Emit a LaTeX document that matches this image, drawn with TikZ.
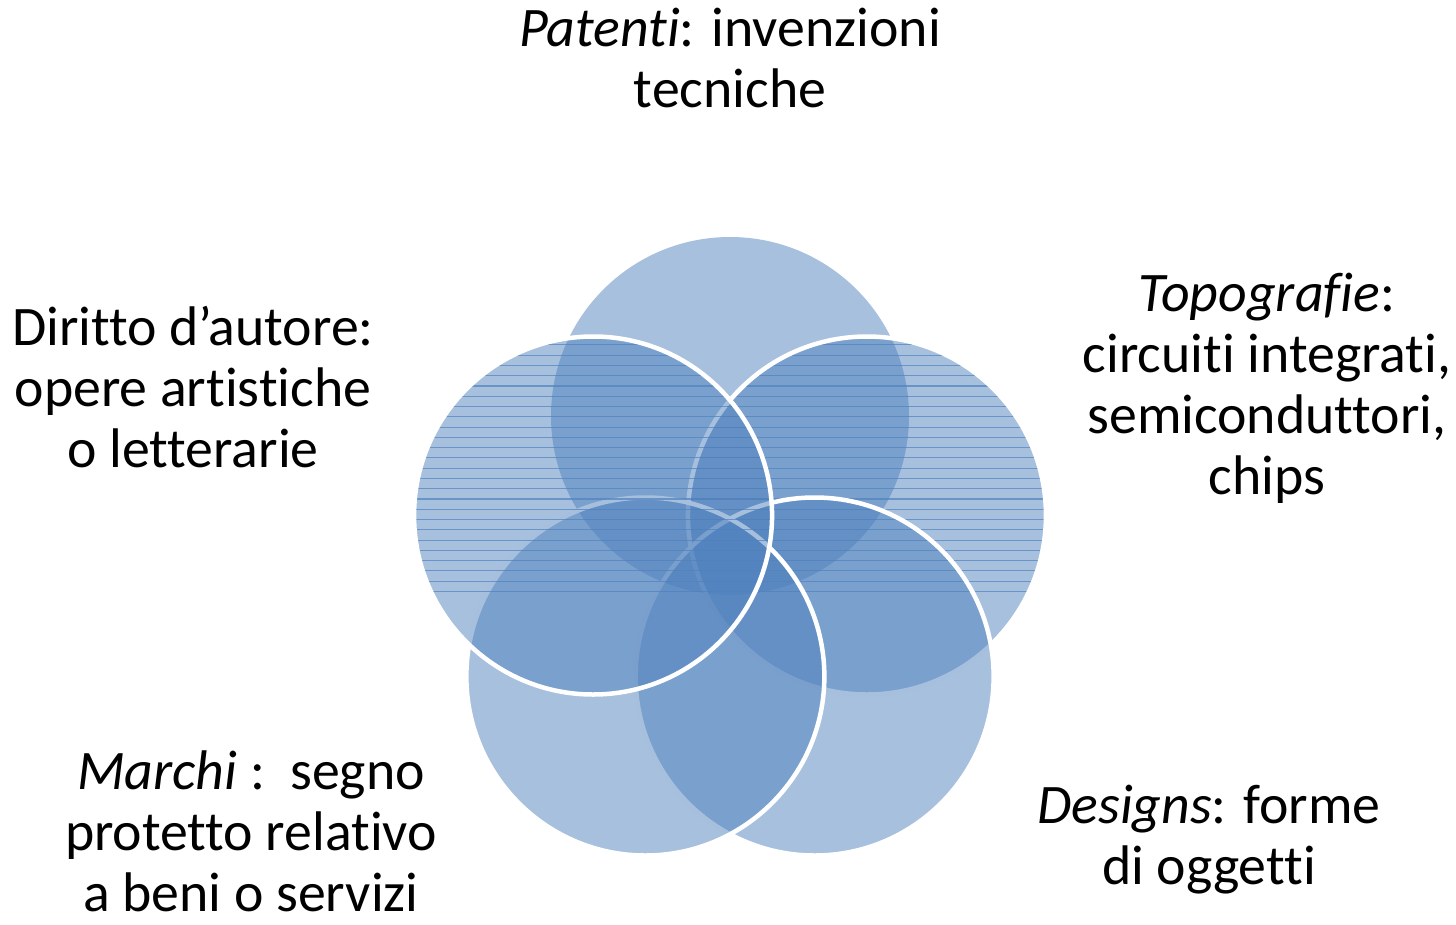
\documentclass[tikz,border=0pt]{standalone}
\usepackage{fontspec}
\setmainfont{Carlito}[Ligatures={NoCommon,NoRequired}]
\definecolor{acc}{HTML}{4F81BD}
\begin{document}
\begin{tikzpicture}[x=1bp,y=-1bp,
  petal/.style={fill=acc, fill opacity=0.5},
  rim/.style={draw=white, line width=4.5bp},
  hatch/.style={draw=acc, draw opacity=0.7, line width=1.1bp},
  lbl/.style={font=\fontsize{56}{61}\selectfont, align=center, anchor=base, inner sep=0pt}]
\useasboundingbox (0,0) rectangle (1456,924);
\def\R{179bp}
\coordinate (cP) at (730,416);
\coordinate (cT) at (866.95,515.5);
\coordinate (cG) at (814.64,676.5);
\coordinate (cM) at (645.36,676.5);
\coordinate (cD) at (593.05,515.5);
% Patenti
\path[petal] (cP) circle[radius=\R];
% Topografie
\path[petal] (cT) circle[radius=\R];
\begin{scope}
  \clip (cT) circle[radius=\R];
  \foreach \k in {-16,...,20} {\draw[hatch] (680,386+10.27*\k) -- (1050,386+10.27*\k);}
\end{scope}
\path[rim] (cT) circle[radius=\R];
% Designs
\path[petal] (cG) circle[radius=\R];
\path[rim] (cG) circle[radius=\R];
% Marchi
\path[petal] (cM) circle[radius=\R];
\path[rim] (cM) circle[radius=\R];
% Diritto
\path[petal] (cD) circle[radius=\R];
\begin{scope}
  \clip (cD) circle[radius=\R];
  \foreach \k in {-16,...,20} {\draw[hatch] (410,386+10.27*\k) -- (780,386+10.27*\k);}
\end{scope}
\path[rim] (cD) circle[radius=\R];
% labels (anchor = baseline of last line)
\node[lbl] (tP) at (730,107) {\textit{Patenti}: invenzioni\\tecniche};
\node[lbl] (tD) at (193,467) {Diritto d’autore:\\opere artistiche\\o letterarie};
\node[lbl] (tT) at (1267,494) {\textit{Topografie}:\\circuiti integrati,\\semiconduttori,\\chips};
\node[lbl] (tM) at (251,911) {\textit{Marchi} :~~segno\\protetto relativo\\a beni o servizi};
\node[lbl] (tG) at (1209,884) {\textit{Designs}: forme\\di oggetti};
\end{tikzpicture}
\end{document}
